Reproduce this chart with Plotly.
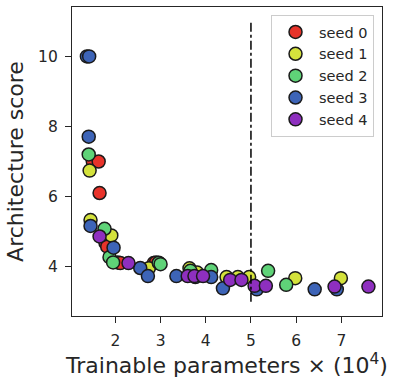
import plotly.graph_objects as go

# ---- data ----
seed_names = ["seed 0", "seed 1", "seed 2", "seed 3", "seed 4"]
seed_colors = ["#e8332a", "#d4e23c", "#5fd378", "#3d64b7", "#8e2fbf"]

seed0_x = [1.50, 1.63, 1.65, 1.78, 1.82, 2.05, 2.11, 2.85, 2.90]
seed0_y = [7.00, 7.00, 6.10, 4.68, 4.57, 4.12, 4.10, 4.10, 4.12]

seed1_x = [1.43, 1.45, 1.91, 2.74, 3.64, 3.81, 4.46, 4.71, 4.96, 5.98, 6.99]
seed1_y = [6.74, 5.33, 4.89, 3.95, 3.95, 3.83, 3.70, 3.70, 3.70, 3.67, 3.67]

seed2_x = [1.41, 1.76, 1.87, 1.95, 2.96, 3.00, 3.66, 4.12, 5.38, 5.78]
seed2_y = [7.20, 5.08, 4.27, 4.12, 4.11, 4.07, 3.88, 3.90, 3.88, 3.48]

seed3_x = [1.37, 1.42, 1.41, 1.45, 1.96, 2.55, 2.72, 3.35, 3.77, 4.12, 4.38, 5.13, 6.41, 6.90]
seed3_y = [10.0, 10.0, 7.71, 5.16, 4.54, 3.96, 3.73, 3.73, 3.70, 3.70, 3.38, 3.35, 3.35, 3.35]

seed4_x = [1.65, 2.29, 3.60, 3.75, 3.94, 4.54, 4.79, 5.08, 5.33, 6.85, 7.60]
seed4_y = [4.86, 4.10, 3.73, 3.73, 3.73, 3.62, 3.62, 3.45, 3.45, 3.43, 3.43]

xs = [seed0_x, seed1_x, seed2_x, seed3_x, seed4_x]
ys = [seed0_y, seed1_y, seed2_y, seed3_y, seed4_y]

x_ticks = [2, 3, 4, 5, 6, 7]
y_ticks = [4, 6, 8, 10]
x_range = [1.04, 7.9]
y_range = [2.59, 11.41]
vline_x = 5
vline_y = [3, 11]

FONT = "DejaVu Sans"
fig = go.Figure()
for i in range(5):
    fig.add_trace(go.Scatter(
        x=xs[i], y=ys[i], mode="markers", name=seed_names[i],
        legendgroup=seed_names[i],
        marker=dict(size=13, color=seed_colors[i],
                    line=dict(color="#1a1a1a", width=1.5)),
    ))

fig.add_shape(type="line", xref="x", yref="y",
              x0=vline_x, x1=vline_x, y0=vline_y[0], y1=vline_y[1],
              line=dict(color="black", width=1.5, dash="dashdot"))

axis_common = dict(
    showgrid=False, zeroline=False, showline=True, mirror=True,
    linecolor="#262626", linewidth=1.25, automargin=False,
    ticks="outside", ticklen=6, tickwidth=1.25, tickcolor="#262626",
    ticklabelstandoff=4,
    tickfont=dict(family=FONT, size=15.5, color="#262626"),
)

fig.update_xaxes(range=x_range, tickvals=x_ticks,
                 title=dict(text="Trainable parameters × (10<sup>4</sup>)",
                            font=dict(family=FONT, size=22, color="#262626"),
                            standoff=8),
                 **axis_common)
fig.update_yaxes(range=y_range, tickvals=y_ticks,
                 title=dict(text="Architecture score",
                            font=dict(family=FONT, size=22, color="#262626"),
                            standoff=8),
                 **axis_common)

fig.update_layout(
    width=393, height=378,
    margin=dict(l=72, r=11, t=7, b=62),
    plot_bgcolor="white", paper_bgcolor="white",
    font=dict(family=FONT, color="#262626"),
    legend=dict(x=0.642, y=0.974, xanchor="left", yanchor="top",
                bgcolor="white", bordercolor="#cccccc", borderwidth=1,
                font=dict(family=FONT, size=14.5, color="#262626"),
                itemwidth=37, tracegroupgap=0),
)

fig.write_html("out.html", config={"displayModeBar": False})

# remove default page margin so the figure sits at the window's top-left
with open("out.html", "r", encoding="utf-8") as f:
    html = f.read()
html = html.replace("<head>", "<head><style>html,body{margin:0;padding:0;overflow:hidden}</style>", 1)
with open("out.html", "w", encoding="utf-8") as f:
    f.write(html)
